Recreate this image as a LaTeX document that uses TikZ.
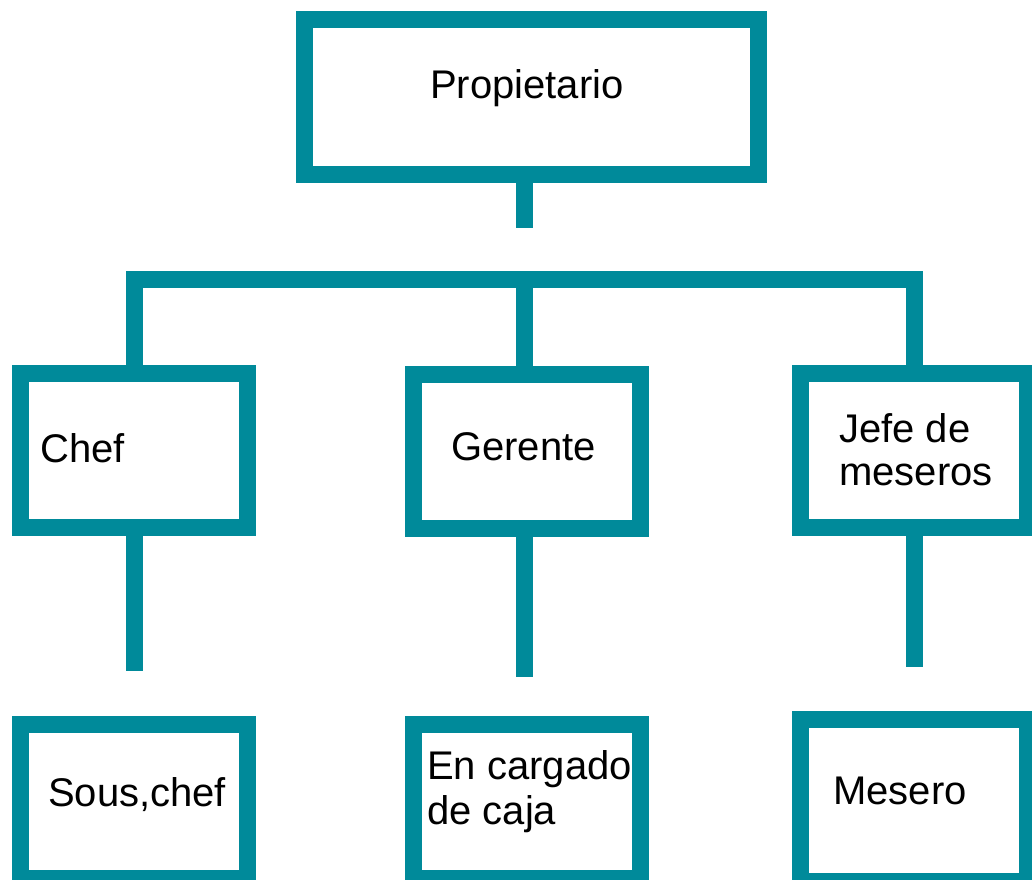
\documentclass[tikz,border=0pt]{standalone}
\usepackage{fontspec}
\setmainfont{Liberation Sans}
\definecolor{teal1}{RGB}{0,138,154}
\begin{document}
\begin{tikzpicture}[x=1pt,y=-1pt,
  box/.style={draw=teal1,line width=17pt,rectangle,inner sep=0pt,minimum width=227pt,minimum height=154pt},
  link/.style={draw=teal1,line width=17pt,line cap=butt,line join=miter},
  lbl/.style={anchor=base west,inner sep=0pt,font=\fontsize{40}{44}\selectfont,text=black}]
\useasboundingbox (0,0) rectangle (1032,879);
\clip (0,0) rectangle (1032,879);
\fill[white] (0,0) rectangle (1032,879);
% boxes
\node[box,minimum width=454pt,minimum height=155pt] (prop) at (531.5,97) {};
\node[box] (chef) at (134,450.5) {};
\node[box] (ger) at (527,451) {};
\node[box] (jefe) at (914,450) {};
\node[box] (sous) at (134,801.5) {};
\node[box] (caja) at (527,801.5) {};
\node[box,minimum height=162pt] (mes) at (914,800.5) {};
% free ends
\coordinate (propend) at (524,228);
\coordinate (bar) at (524,279);
\coordinate (chefend) at (134,671);
\coordinate (gerend) at (524,677);
\coordinate (jefeend) at (914,667);
% connectors
\draw[link] (prop.south -| propend) -- (propend);
\draw[link] (chef.north) -- (chef.north |- bar) -- (jefe.north |- bar) -- (jefe.north);
\draw[link] (bar) -- (bar |- ger.north);
\draw[link] (chef.south) -- (chefend);
\draw[link] (gerend |- ger.south) -- (gerend);
\draw[link] (jefe.south) -- (jefeend);
% labels
\node[lbl] (tprop) at (430,98) {Propietario};
\node[lbl] (tchef) at (40,462) {Chef};
\node[lbl] (tger) at (451,460) {Gerente};
\node[lbl] (tjefe1) at (839,442) {Jefe de};
\node[lbl] (tjefe2) at (839,485) {meseros};
\node[lbl] (tsous) at (48,806) {Sous,chef};
\node[lbl] (tcaja1) at (427,779) {En cargado};
\node[lbl] (tcaja2) at (427,824) {de caja};
\node[lbl] (tmes) at (833,804) {Mesero};
\end{tikzpicture}
\end{document}
